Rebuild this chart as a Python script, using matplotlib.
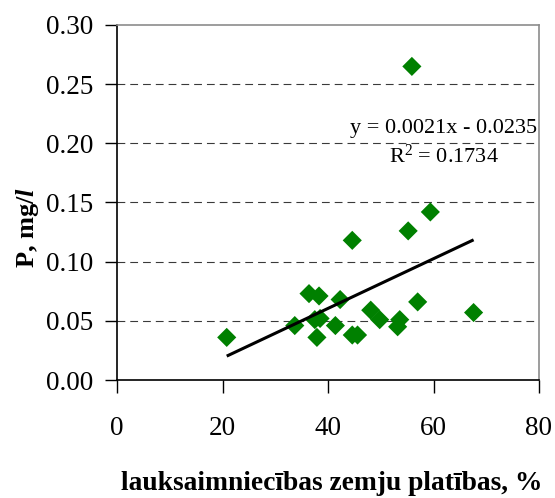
import matplotlib
matplotlib.use("Agg")
import matplotlib.pyplot as plt
import numpy as np

# Agricultural land share (%) and phosphorus concentration (mg/l)
farmland_pct = [20.8, 33.7, 36.4, 38.3, 37.5, 38.5, 37.9, 42.3, 41.4, 44.6, 44.6,
                45.6, 48.1, 49.8, 53.2, 53.6, 55.2, 55.9, 57.0, 59.4, 67.6]
phosphorus = [0.036, 0.046, 0.073, 0.071, 0.051, 0.052, 0.036, 0.068, 0.046, 0.118, 0.038,
              0.038, 0.059, 0.051, 0.045, 0.051, 0.126, 0.265, 0.066, 0.142, 0.057]

# Linear trend reported on the chart
slope = 0.0021
intercept = -0.0235
r_squared = 0.1734

x_ticks = [0, 20, 40, 60, 80]
y_ticks = [0.00, 0.05, 0.10, 0.15, 0.20, 0.25, 0.30]

plt.rcParams["font.family"] = ["Liberation Serif", "DejaVu Serif"]
plt.rcParams["mathtext.fontset"] = "custom"
plt.rcParams["mathtext.rm"] = "Liberation Serif"
plt.rcParams["mathtext.it"] = "Liberation Serif:italic:bold"
plt.rcParams["mathtext.bf"] = "Liberation Serif:bold"

fig = plt.figure(figsize=(5.55, 4.98), dpi=100)
ax = fig.add_axes([117 / 555, 1 - 380 / 498, 422 / 555, 355 / 498])

ax.set_xlim(0, 80)
ax.set_ylim(0, 0.30)

# dashed horizontal gridlines
for yv in y_ticks[1:-1]:
    ax.axhline(yv, color="#3a3a3a", lw=0.8, linestyle=(0, (7, 4.5)), zorder=1)

ax.scatter(farmland_pct, phosphorus, marker="D", s=95, color="#008000",
           edgecolors="none", zorder=3)

xs = np.array([min(farmland_pct), max(farmland_pct)])
ax.plot(xs, slope * xs + intercept, color="black", lw=2.2, zorder=4,
        solid_capstyle="butt")

ax.text(0.995, 0.695, "y = 0.0021x - 0.0235", transform=ax.transAxes,
        ha="right", va="baseline", fontsize=16)
ax.text(0.775, 0.612, f"R$^2$ = {r_squared:.4f}", transform=ax.transAxes,
        ha="center", va="baseline", fontsize=16)

ax.set_xticks(x_ticks)
ax.set_xticklabels([str(v) for v in x_ticks])
ax.set_yticks(y_ticks)
ax.set_yticklabels([f"{v:.2f}" for v in y_ticks])

ax.tick_params(axis="both", direction="out", length=9, width=1.0, color="black",
               labelsize=19.5)
ax.tick_params(axis="x", pad=17)
ax.tick_params(axis="y", pad=8)

for side in ("top", "right"):
    ax.spines[side].set_color("#8c8c8c")
    ax.spines[side].set_linewidth(1.2)
for side in ("left", "bottom"):
    ax.spines[side].set_color("black")
    ax.spines[side].set_linewidth(1.2)

ax.set_xlabel("lauksaimniecības zemju platības, %", fontsize=19.8, fontweight="bold")
ax.xaxis.set_label_coords(0.51, -0.255)
ax.set_ylabel("P, mg/$l$", fontsize=19, fontweight="bold")
ax.yaxis.set_label_coords(-0.18, 0.43)

fig.savefig("out.png", dpi=100, facecolor="white")
